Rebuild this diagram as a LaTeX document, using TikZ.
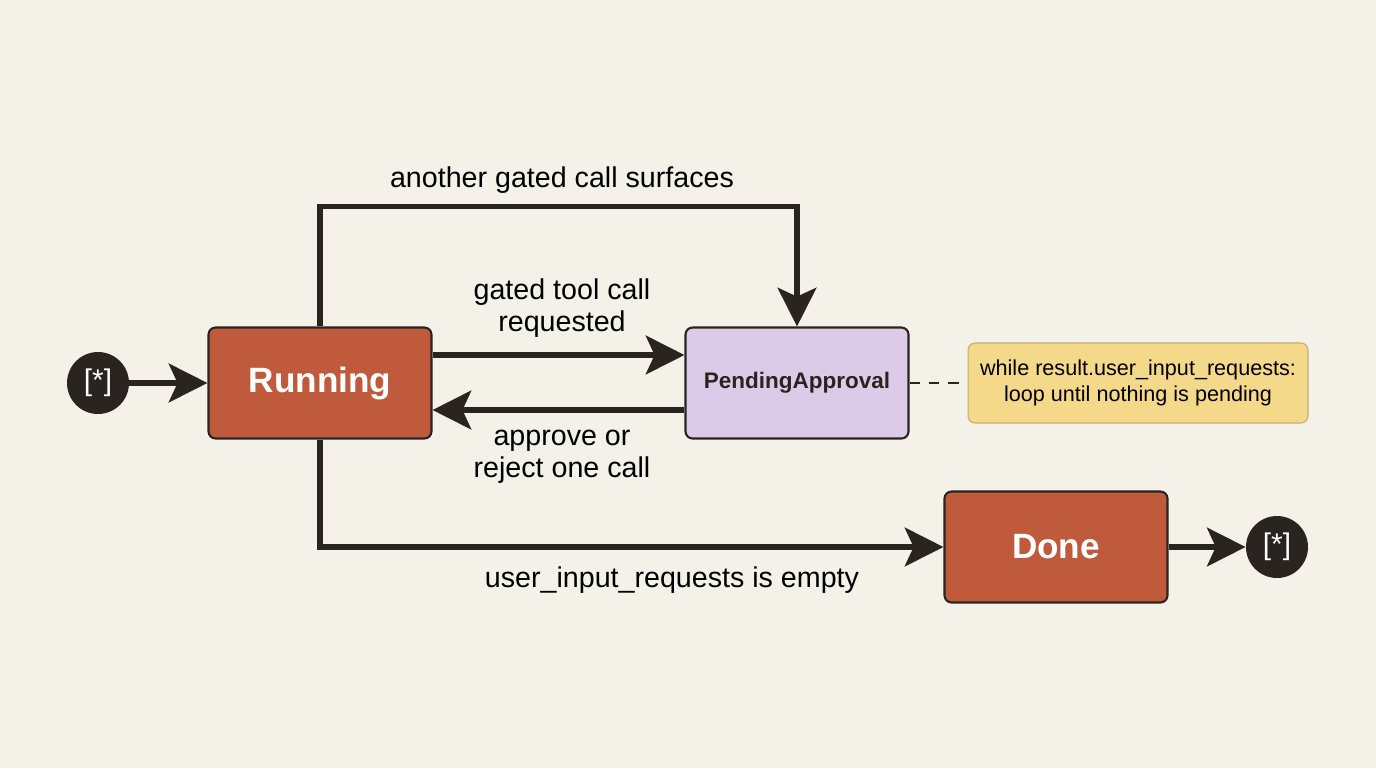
\documentclass[tikz,border=0pt]{standalone}
\usepackage{fontspec}
\setmainfont{Liberation Sans}
\usetikzlibrary{positioning,arrows.meta,calc}
\definecolor{bgcol}{HTML}{F4F1E8}
\definecolor{runcol}{HTML}{BF5B3C}
\definecolor{pendcol}{HTML}{DCCBE8}
\definecolor{notecol}{HTML}{F4D98A}
\definecolor{inkcol}{HTML}{2A2420}
\begin{document}
\begin{tikzpicture}[x=0.02cm, y=-0.02cm,
      state/.style={draw=inkcol, line width=1.2pt, rounded corners=4pt,
        minimum width=4.46cm, minimum height=2.22cm, inner sep=0pt},
      term/.style={circle, fill=inkcol, minimum size=1.24cm, inner sep=0pt,
        text=white, font=\fontsize{17}{20}\selectfont},
      flow/.style={draw=inkcol, line width=3pt,
        -{Stealth[length=22pt, width=22pt, inset=5pt]}},
      lbl/.style={align=center, text=black, font=\fontsize{16.3}{18.5}\selectfont}]
      \fill[bgcol] (0,0) rectangle (1376,768);
      \node[term] (start) at (98,383) {[*]};
      \node[state, fill=runcol, text=white,
        font=\bfseries\fontsize{20}{23}\selectfont] (run) at (320,383) {Running};
      \node[state, fill=pendcol, text=inkcol,
        font=\bfseries\fontsize{12.8}{15}\selectfont] (pend) at (797,383) {PendingApproval};
      \node[draw=notecol!80!black, line width=0.6pt, fill=notecol, rounded corners=4pt,
        minimum width=6.8cm, minimum height=1.6cm, align=center,
        font=\fontsize{12.3}{14.5}\selectfont] (note) at (1138,383)
        {while result.user\_input\_requests:\\loop until nothing is pending};
      \node[state, fill=runcol, text=white,
        font=\bfseries\fontsize{20}{23}\selectfont] (done) at (1056,547) {Done};
      \node[term] (stop) at (1277,547) {[*]};
      % connectors
      \draw[flow] (start) -- (run);
      \draw[flow] ($(run.east)+(0,-28)$) -- ($(pend.west)+(0,-28)$);
      \draw[flow] ($(pend.west)+(0,27)$) -- ($(run.east)+(0,27)$);
      \draw[flow] (run.north) -- ++(0,-120) -| (pend.north);
      \draw[flow] (run.south) |- (done.west);
      \draw[flow] (done) -- (stop);
      \draw[inkcol, line width=0.8pt, dash pattern=on 6pt off 5pt] (pend) -- (note);
      % labels
      \node[lbl] (l1) at (562,180) {another gated call surfaces};
      \node[lbl] (l2) at (562,308) {gated tool call\\requested};
      \node[lbl] (l3) at (562,457) {approve or\\reject one call};
      \node[lbl] (l4) at (672,580) {user\_input\_requests is empty};
\end{tikzpicture}
\end{document}
